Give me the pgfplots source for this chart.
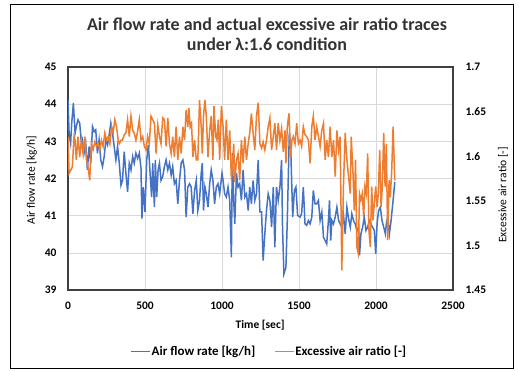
\documentclass[border=0pt]{standalone}
\usepackage{fontspec}
\setmainfont{Carlito}
\usepackage{pgfplots}
\pgfplotsset{compat=1.18}
\definecolor{xlblue}{HTML}{4472C4}
\definecolor{xlorange}{HTML}{ED7D31}
\definecolor{gridgray}{HTML}{D9D9D9}
\definecolor{framegray}{HTML}{404040}
\begin{document}
\begin{tikzpicture}
\useasboundingbox (0,0) rectangle (519pt,371pt);
\draw[line width=0.9pt,black] (10.5pt,2.5pt) rectangle (513.5pt,367pt);
\node[align=center,font=\bfseries\fontsize{18}{19.5}\selectfont,text=black!80] at (267pt,337pt) {Air flow rate and actual excessive air ratio traces\\under λ:1.6 condition};
\pgfplotsset{
  common/.style={
    scale only axis, width=385pt, height=223pt,
    at={(68pt,81pt)}, anchor=south west,
    xmin=0, xmax=2500,
    major tick length=0pt,
    /pgf/number format/assume math mode=true,
    /pgf/number format/set thousands separator={},
    tick label style={font=\bfseries\fontsize{11.5}{13}\selectfont},
  }
}
\begin{axis}[common,
  ymin=39, ymax=45, ytick={39,40,...,45},
  xtick={0,500,...,2500},
  grid=major, major grid style={gridgray,line width=0.6pt},
  axis line style={framegray,line width=1.8pt},
  xticklabel style={yshift=-8pt},
  yticklabel style={xshift=-8pt},
  xlabel={\bfseries Time [sec]},
  xlabel style={font=\fontsize{11.5}{13}\selectfont, at={(axis description cs:0.499,-0.157)}, anchor=center},
  ylabel={Air flow rate [kg/h]},
  ylabel style={font=\fontsize{11.5}{13}\selectfont, at={(axis description cs:-0.094,0.493)}, anchor=center, rotate=0},
  legend style={draw=none, fill=none, at={(axis description cs:0.522,-0.278)}, anchor=center,
    nodes={font=\bfseries\fontsize{13}{15}\selectfont, inner sep=1pt},
    legend columns=2, column sep=0pt,
    /tikz/every even column/.append style={column sep=18pt}},
  legend cell align=left,
  legend image code/.code={\draw[#1,line width=1pt] (0pt,0pt) -- (19pt,0pt);},
]
\addplot[xlblue, line width=1.5pt] coordinates {
(0,44.12)(7,43.22)(17,42.95)(24,43.49)(35,44.03)(46,43.22)(54,43.40)(65,43.58)(76,43.49)(87,42.95)
(93,43.04)(104,42.68)(115,42.95)(126,42.23)(137,42.86)(148,42.41)(159,43.40)(170,43.26)(180,43.31)(191,42.68)
(202,43.04)(213,42.50)(224,42.32)(235,42.59)(246,43.04)(257,42.90)(267,43.17)(278,43.49)(289,43.22)(300,42.86)
(311,42.50)(322,42.86)(333,42.41)(344,41.82)(354,41.95)(365,42.72)(376,42.14)(387,41.64)(398,42.41)(409,42.23)
(420,42.59)(430,42.41)(441,42.68)(452,42.54)(463,42.68)(474,42.27)(480,40.92)(489,41.77)(500,41.10)(511,42.50)
(522,42.90)(533,42.14)(543,41.50)(550,42.41)(561,41.23)(567,42.50)(576,41.50)(585,42.23)(594,42.41)(604,41.95)
(615,42.05)(626,42.32)(637,42.50)(648,42.23)(659,42.41)(670,42.09)(680,42.32)(691,41.86)(702,41.95)(713,41.32)
(724,41.95)(735,42.41)(746,42.50)(757,42.23)(767,40.96)(778,41.77)(789,41.86)(800,41.77)(811,41.05)(822,41.68)
(833,41.95)(843,41.14)(854,41.41)(865,42.14)(872,42.41)(880,41.14)(889,41.77)(898,41.59)(909,41.23)(920,41.86)
(930,42.23)(941,41.95)(952,41.32)(963,41.77)(974,41.86)(985,41.59)(1000,42.14)(1007,41.95)(1017,41.59)(1028,41.50)
(1039,41.77)(1050,41.41)(1061,39.88)(1067,42.68)(1076,41.41)(1083,40.78)(1094,42.14)(1104,41.77)(1115,41.86)(1126,41.41)
(1137,42.23)(1148,41.50)(1159,41.59)(1170,41.14)(1180,41.77)(1191,41.32)(1202,41.95)(1213,41.41)(1224,41.59)(1235,42.50)
(1246,41.10)(1257,41.10)(1267,39.79)(1278,40.51)(1289,41.14)(1300,41.59)(1311,41.41)(1322,40.69)(1333,41.77)(1343,40.15)
(1354,41.77)(1365,41.41)(1376,41.77)(1387,42.50)(1393,40.69)(1402,39.43)(1415,39.61)(1424,40.87)(1437,43.22)(1446,42.86)
(1459,40.96)(1470,41.68)(1480,41.77)(1491,41.01)(1507,40.96)(1517,41.05)(1528,41.77)(1539,40.78)(1550,40.74)(1561,40.87)
(1572,40.78)(1583,40.96)(1593,41.68)(1604,41.32)(1615,41.32)(1626,41.41)(1637,40.87)(1648,41.10)(1659,40.42)(1670,40.33)
(1680,40.24)(1691,40.87)(1698,41.41)(1706,40.33)(1713,40.87)(1724,40.78)(1735,40.96)(1746,41.23)(1757,40.87)(1767,40.78)
(1778,40.69)(1789,41.01)(1800,40.51)(1811,41.23)(1822,40.92)(1833,40.69)(1843,41.05)(1854,40.87)(1865,40.78)(1876,40.60)
(1887,40.69)(1893,39.93)(1902,40.51)(1913,40.69)(1924,40.96)(1935,40.60)(1946,40.69)(1956,40.87)(1967,40.78)(1978,40.69)
(1989,40.60)(1998,39.97)(2007,40.78)(2017,41.14)(2028,41.23)(2039,40.87)(2050,40.69)(2061,40.51)(2067,40.78)(2076,40.96)
(2087,40.51)(2098,40.87)(2111,41.41)(2122,41.91)
};
\addlegendentry{Air flow rate [kg/h]}
\addlegendimage{xlorange}
\addlegendentry{Excessive air ratio [-]}
\end{axis}
\begin{axis}[common,
  ymin=1.45, ymax=1.7, ytick={1.45,1.5,...,1.7},
  yticklabel style={xshift=9pt, /pgf/number format/fixed, /pgf/number format/precision=2},
  axis y line*=right, axis x line=none,
  y axis line style={draw=none},
  ylabel={Excessive air ratio [-]},
  ylabel style={font=\fontsize{11.5}{13}\selectfont, at={(axis description cs:1.130,0.426)}, anchor=center, rotate=0},
]
\addplot[xlorange, line width=1.5pt] coordinates {
(0,1.622)(7,1.581)(17,1.584)(28,1.588)(39,1.622)(46,1.618)(54,1.596)(65,1.622)(76,1.599)(87,1.618)
(98,1.603)(109,1.622)(120,1.596)(130,1.588)(141,1.573)(152,1.614)(163,1.607)(174,1.616)(185,1.611)(196,1.614)
(207,1.607)(217,1.618)(228,1.611)(239,1.626)(250,1.618)(261,1.622)(272,1.614)(283,1.633)(293,1.626)(304,1.641)
(315,1.633)(326,1.618)(333,1.614)(344,1.618)(354,1.618)(365,1.624)(376,1.626)(387,1.641)(398,1.622)(409,1.645)
(420,1.629)(430,1.626)(441,1.618)(452,1.628)(463,1.641)(474,1.618)(485,1.622)(496,1.611)(507,1.607)(517,1.622)
(528,1.614)(539,1.645)(550,1.641)(561,1.637)(572,1.603)(583,1.635)(594,1.622)(604,1.614)(615,1.643)(626,1.641)
(637,1.611)(648,1.643)(659,1.614)(670,1.603)(680,1.622)(691,1.599)(702,1.633)(713,1.596)(724,1.622)(735,1.603)
(746,1.633)(757,1.618)(767,1.652)(778,1.633)(785,1.654)(793,1.633)(802,1.637)(811,1.599)(822,1.618)(833,1.596)
(843,1.596)(854,1.663)(865,1.633)(872,1.603)(880,1.645)(889,1.663)(898,1.645)(909,1.599)(920,1.629)(930,1.645)
(941,1.596)(948,1.656)(959,1.622)(967,1.618)(976,1.641)(985,1.596)(996,1.656)(1007,1.633)(1017,1.596)(1028,1.641)
(1039,1.596)(1050,1.629)(1061,1.573)(1067,1.588)(1076,1.614)(1083,1.571)(1094,1.596)(1104,1.603)(1115,1.573)(1126,1.618)
(1137,1.592)(1148,1.622)(1159,1.596)(1170,1.614)(1180,1.626)(1191,1.648)(1202,1.626)(1213,1.607)(1224,1.645)(1235,1.660)
(1246,1.614)(1257,1.609)(1267,1.616)(1278,1.607)(1289,1.618)(1300,1.633)(1311,1.643)(1322,1.607)(1333,1.622)(1343,1.637)
(1354,1.607)(1365,1.637)(1376,1.618)(1387,1.631)(1398,1.605)(1409,1.629)(1415,1.592)(1424,1.633)(1435,1.648)(1446,1.599)
(1454,1.618)(1463,1.622)(1474,1.614)(1485,1.637)(1496,1.614)(1507,1.618)(1517,1.611)(1528,1.633)(1539,1.624)(1550,1.622)
(1561,1.618)(1572,1.592)(1583,1.633)(1593,1.645)(1604,1.618)(1615,1.633)(1626,1.622)(1637,1.611)(1648,1.629)(1659,1.637)
(1670,1.596)(1680,1.618)(1691,1.599)(1702,1.633)(1713,1.599)(1724,1.618)(1735,1.577)(1746,1.629)(1757,1.607)(1767,1.622)
(1778,1.472)(1789,1.569)(1800,1.626)(1811,1.596)(1822,1.577)(1833,1.558)(1839,1.622)(1850,1.584)(1859,1.539)(1867,1.596)
(1876,1.498)(1885,1.491)(1893,1.558)(1902,1.551)(1911,1.558)(1920,1.532)(1928,1.566)(1937,1.558)(1946,1.603)(1954,1.517)
(1963,1.498)(1972,1.566)(1980,1.528)(1989,1.547)(1998,1.566)(2007,1.543)(2015,1.558)(2024,1.607)(2033,1.543)(2041,1.566)
(2050,1.626)(2059,1.566)(2067,1.614)(2076,1.506)(2085,1.573)(2093,1.554)(2102,1.584)(2111,1.633)(2122,1.573)
};
\end{axis}
\end{tikzpicture}
\end{document}
